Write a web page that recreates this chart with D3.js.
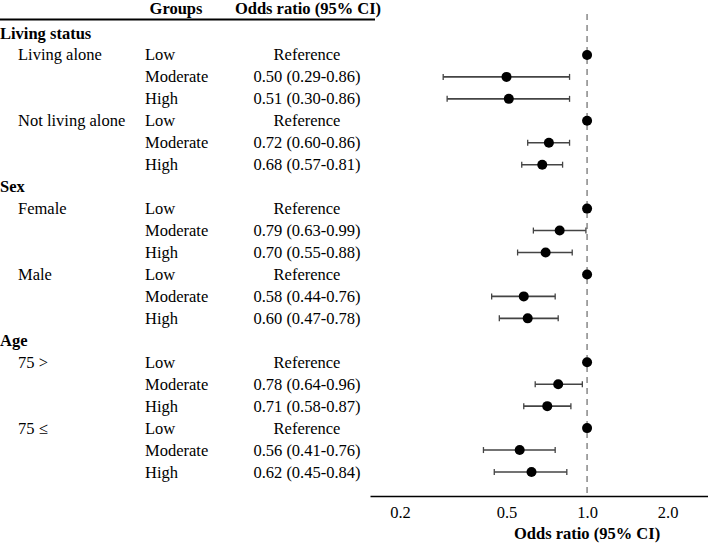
<!DOCTYPE html>
<html>
<head>
<meta charset="utf-8">
<script src="https://cdnjs.cloudflare.com/ajax/libs/d3/7.8.5/d3.min.js"></script>
<style>
body { margin: 0; background: #fff; }
text { font-family: "Liberation Serif", "Times New Roman", serif; fill: #000; }
</style>
</head>
<body>
<svg id="chart" width="708" height="544"></svg>
<script>
// rows: section header, subgroup label, group, text, OR, lo, hi
const sections = ["Living status", "Sex", "Age"];
const subgroups = ["Living alone", "Not living alone", "Female", "Male", "75 >", "75 \u2264"];
const levels = ["Low", "Moderate", "High"];
const orValues = [
  [1, 0.50, 0.51],
  [1, 0.72, 0.68],
  [1, 0.79, 0.70],
  [1, 0.58, 0.60],
  [1, 0.78, 0.71],
  [1, 0.56, 0.62]
];
const ciLow = [
  [null, 0.29, 0.30],
  [null, 0.60, 0.57],
  [null, 0.63, 0.55],
  [null, 0.44, 0.47],
  [null, 0.64, 0.58],
  [null, 0.41, 0.45]
];
const ciHigh = [
  [null, 0.86, 0.86],
  [null, 0.86, 0.81],
  [null, 0.99, 0.88],
  [null, 0.76, 0.78],
  [null, 0.96, 0.87],
  [null, 0.76, 0.84]
];
const ticks = [0.2, 0.5, 1.0, 2.0];

// build row list
var rows = [];
sections.forEach(function(s, si) {
  rows.push({type: "section", label: s});
  [0, 1].forEach(function(k) {
    var gi = si * 2 + k;
    levels.forEach(function(l, li) {
      rows.push({
        type: "item",
        sub: li == 0 ? subgroups[gi] : "",
        level: l,
        or: orValues[gi][li],
        lo: ciLow[gi][li],
        hi: ciHigh[gi][li]
      });
    });
  });
});

const svg = d3.select("#chart");
const fs = 16.5;

var y = d3.scaleLinear().domain([0, rows.length - 1]).range([33, 472]);
var x = d3.scaleLog().domain([0.1545, 2.83]).range([370, 708]);

// header
svg.append("text").attr("x", 176).attr("y", 14).attr("text-anchor", "middle")
  .style("font-weight", "bold").style("font-size", fs + "px").text("Groups");
svg.append("text").attr("x", 308).attr("y", 14).attr("text-anchor", "middle")
  .style("font-weight", "bold").style("font-size", fs + "px").text("Odds ratio (95% CI)");
svg.append("line").attr("x1", 0).attr("x2", 375).attr("y1", 19.5).attr("y2", 19.5)
  .attr("stroke", "#000").attr("stroke-width", 2);

// table text
rows.forEach(function(d, i) {
  var yy = y(i) + 5.5;
  if (d.type == "section") {
    svg.append("text").attr("x", 0).attr("y", yy).style("font-weight", "bold")
      .style("font-size", fs + "px").text(d.label);
  } else {
    if (d.sub) svg.append("text").attr("x", 18).attr("y", yy).style("font-size", fs + "px").text(d.sub);
    svg.append("text").attr("x", 145).attr("y", yy).style("font-size", fs + "px").text(d.level);
    var t = d.lo == null ? "Reference" : d.or.toFixed(2) + " (" + d.lo.toFixed(2) + "-" + d.hi.toFixed(2) + ")";
    svg.append("text").attr("x", 307).attr("y", yy).attr("text-anchor", "middle")
      .style("font-size", fs + "px").text(t);
  }
});

// reference line
svg.append("line").attr("x1", x(1)).attr("x2", x(1)).attr("y1", 14).attr("y2", 496)
  .attr("stroke", "#888").attr("stroke-width", 1.5).attr("stroke-dasharray", "6,5");

// CI bars
var items = rows.map(function(d, i) { d.i = i; return d; }).filter(function(d) { return d.type == "item"; });
var ci = items.filter(function(d) { return d.lo != null; });
svg.selectAll(".ci").data(ci).enter().append("line")
  .attr("x1", d => x(d.lo)).attr("x2", d => x(d.hi))
  .attr("y1", d => y(d.i)).attr("y2", d => y(d.i))
  .attr("stroke", "#444").attr("stroke-width", 1.6);
svg.selectAll(".capl").data(ci).enter().append("line")
  .attr("x1", d => x(d.lo)).attr("x2", d => x(d.lo))
  .attr("y1", d => y(d.i) - 3).attr("y2", d => y(d.i) + 3)
  .attr("stroke", "#444").attr("stroke-width", 1.3);
svg.selectAll(".capr").data(ci).enter().append("line")
  .attr("x1", d => x(d.hi)).attr("x2", d => x(d.hi))
  .attr("y1", d => y(d.i) - 3).attr("y2", d => y(d.i) + 3)
  .attr("stroke", "#444").attr("stroke-width", 1.3);
svg.selectAll(".pt").data(items).enter().append("circle")
  .attr("cx", d => x(d.or)).attr("cy", d => y(d.i)).attr("r", 5)
  .attr("fill", "#000");

// axis
var ax = svg.append("g").attr("transform", "translate(0,496)")
  .call(d3.axisBottom(x).tickValues(ticks).tickSize(0).tickPadding(10).tickFormat(d3.format(".1f")));
ax.select(".domain").attr("stroke", "#000").attr("stroke-width", 1.5);
ax.selectAll("text").style("font-family", "Liberation Serif, serif").style("font-size", fs + "px");

svg.append("text").attr("x", x(1)).attr("y", 539).attr("text-anchor", "middle")
  .style("font-weight", "bold").style("font-size", fs + "px").text("Odds ratio (95% CI)");
</script>
</body>
</html>
